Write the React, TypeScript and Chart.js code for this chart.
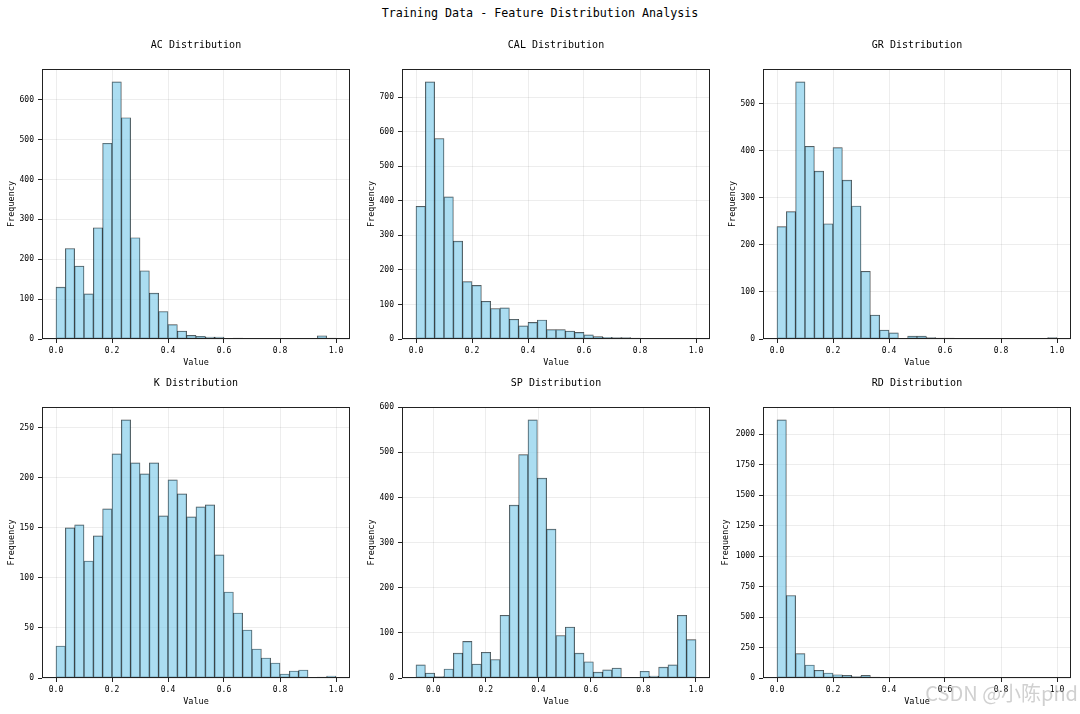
import React, { useEffect, useRef } from "react";
import { Chart, registerables } from "chart.js";

Chart.register(...registerables);

// ---------------- data ----------------
const SUPTITLE = "Training Data - Feature Distribution Analysis";
const featureNames = ["AC", "CAL", "GR", "K", "SP", "RD"];
const X_LABEL = "Value";
const Y_LABEL = "Frequency";
const WATERMARK = "CSDN @小陈phd";

// 30-bin histogram counts
const acCounts = [130, 227, 183, 113, 279, 491, 645, 555, 254, 171, 115, 69, 36, 20, 9, 7, 5, 5, 0, 2, 0, 0, 0, 0, 1, 1, 1, 0, 8, 2];
const calCounts = [384, 744, 580, 411, 283, 166, 155, 109, 88, 90, 57, 38, 48, 55, 27, 27, 23, 19, 12, 7, 5, 4, 4, 3, 2, 0, 0, 0, 0, 1];
const grCounts = [239, 271, 547, 410, 357, 245, 407, 338, 283, 144, 51, 19, 13, 0, 6, 6, 3, 2, 2, 0, 0, 0, 1, 0, 1, 0, 1, 0, 0, 3];
const kCounts = [32, 150, 153, 117, 142, 169, 224, 258, 215, 204, 215, 162, 198, 184, 161, 171, 173, 123, 86, 65, 48, 29, 20, 15, 4, 7, 8, 0, 1, 2];
const spCounts = [29, 11, 3, 20, 55, 81, 31, 57, 41, 139, 383, 495, 572, 443, 330, 94, 113, 55, 36, 13, 18, 22, 0, 0, 15, 4, 24, 29, 139, 85];
const rdCounts = [2118, 677, 200, 107, 63, 41, 27, 22, 11, 22, 8, 5, 3, 2, 1, 1, 1, 1, 1, 1, 1, 1, 0, 0, 0, 0, 0, 0, 2, 3];

// value range covered by the bins of each feature
const defaultRange = [0, 1];
const spRange = [-0.0657, 1.0];

// tick labels
const xTickValues = [0, 0.2, 0.4, 0.6, 0.8, 1.0];
const acYTicks = [0, 100, 200, 300, 400, 500, 600];
const calYTicks = [0, 100, 200, 300, 400, 500, 600, 700];
const grYTicks = [0, 100, 200, 300, 400, 500];
const kYTicks = [0, 50, 100, 150, 200, 250];
const spYTicks = [0, 100, 200, 300, 400, 500, 600];
const rdYTicks = [0, 250, 500, 750, 1000, 1250, 1500, 1750, 2000];

const countsList = [acCounts, calCounts, grCounts, kCounts, spCounts, rdCounts];
const rangeList = [defaultRange, defaultRange, defaultRange, defaultRange, spRange, defaultRange];
const yTicksList = [acYTicks, calYTicks, grYTicks, kYTicks, spYTicks, rdYTicks];

// ---------------- layout / style ----------------
const PANEL_W = 308;
const ROWS = [
  { top: 69, h: 270 },
  { top: 407, h: 271 },
];
const COL_LEFTS = [42, 402, 763];
const YLABEL_GAPS = [30.5, 30.5, 30.5, 30.5, 30.5, 37.3];
const Y_W = 48;
const T_H = 35;
const X_H = 30;
const R_PAD = 4;

const FONT = "'DejaVu Sans Mono', 'Liberation Mono', monospace";
const TEXT_COLOR = "#000";
const BAR_FILL = "rgba(135, 206, 235, 0.7)";
const BAR_EDGE = "rgba(0, 0, 0, 0.72)";
const GRID_COLOR = "rgba(0, 0, 0, 0.09)";
const FRAME_COLOR = "#222";

const framePlugin = {
  id: "frame",
  afterDatasetsDraw(chart: any) {
    const { ctx, chartArea } = chart;
    const { left, top, right, bottom } = chartArea;
    ctx.save();
    ctx.strokeStyle = FRAME_COLOR;
    ctx.lineWidth = 1;
    ctx.strokeRect(Math.round(left) + 0.5, Math.round(top) + 0.5, Math.round(right - left) - 1, Math.round(bottom - top) - 1);
    ctx.restore();
  },
};

type PanelProps = {
  name: string;
  counts: number[];
  range: number[];
  yTicks: number[];
  axesLeft: number;
  axesTop: number;
  axesH: number;
  ylabelGap: number;
};

function Histogram(p: PanelProps) {
  const ref = useRef<HTMLCanvasElement>(null);
  const cw = Y_W + PANEL_W + R_PAD;
  const ch = T_H + p.axesH + X_H;

  useEffect(() => {
    if (!ref.current) return;
    const [lo, hi] = p.range;
    const n = p.counts.length;
    const binW = (hi - lo) / n;
    const span = hi - lo;
    const points = p.counts.map((c, i) => ({ x: lo + (i + 0.5) * binW, y: c }));
    const yMax = Math.max(...p.counts) * 1.05;
    const yTitleOffset = Y_W - p.ylabelGap - 5.1;

    const chart = new Chart(ref.current, {
      type: "bar",
      data: {
        datasets: [
          {
            data: points as any,
            backgroundColor: BAR_FILL,
            borderColor: BAR_EDGE,
            borderWidth: 0.7,
            borderSkipped: false,
            barPercentage: 1,
            categoryPercentage: 1,
            grouped: false,
          } as any,
        ],
      },
      options: {
        responsive: false,
        animation: false,
        layout: { padding: { left: 0, right: R_PAD, top: 0, bottom: 0 } },
        plugins: {
          legend: { display: false },
          tooltip: { enabled: false },
          title: {
            display: true,
            text: `${p.name} Distribution`,
            fullSize: false,
            color: TEXT_COLOR,
            font: { family: FONT, size: 10, weight: "normal" },
            padding: { top: 5, bottom: T_H - 5 - 12 },
          },
        },
        scales: {
          x: {
            type: "linear",
            offset: false,
            min: lo - 0.05 * span,
            max: hi + 0.05 * span,
            afterBuildTicks: (s: any) => {
              s.ticks = xTickValues.map((v) => ({ value: v }));
            },
            afterFit: (s: any) => {
              s.height = X_H;
            },
            ticks: {
              autoSkip: false,
              maxRotation: 0,
              padding: 3,
              color: TEXT_COLOR,
              font: { family: FONT, size: 8 },
              callback: (v: any) => Number(v).toFixed(1),
            },
            grid: {
              offset: false,
              color: GRID_COLOR,
              lineWidth: 0.8,
              drawTicks: true,
              tickLength: 4,
              tickColor: "#222",
              tickWidth: 1,
            },
            border: { display: false },
            title: {
              display: true,
              text: X_LABEL,
              color: TEXT_COLOR,
              font: { family: FONT, size: 8.5 },
              padding: { top: 0, bottom: 1 },
            },
          } as any,
          y: {
            type: "linear",
            min: 0,
            max: yMax,
            afterBuildTicks: (s: any) => {
              s.ticks = p.yTicks.map((v) => ({ value: v }));
            },
            afterFit: (s: any) => {
              s.width = Y_W;
            },
            ticks: {
              autoSkip: false,
              padding: 4,
              color: TEXT_COLOR,
              font: { family: FONT, size: 8 },
              callback: (v: any) => String(v),
            },
            grid: {
              color: GRID_COLOR,
              lineWidth: 0.8,
              drawTicks: true,
              tickLength: 4,
              tickColor: "#222",
              tickWidth: 1,
            },
            border: { display: false },
            title: {
              display: true,
              text: Y_LABEL,
              color: TEXT_COLOR,
              font: { family: FONT, size: 8.5 },
              padding: { top: yTitleOffset, bottom: 0 },
            },
          } as any,
        },
      },
      plugins: [framePlugin],
    });
    return () => chart.destroy();
  }, []);

  return (
    <canvas
      ref={ref}
      width={cw}
      height={ch}
      style={{
        position: "absolute",
        left: p.axesLeft - Y_W,
        top: p.axesTop - T_H,
        width: cw,
        height: ch,
      }}
    />
  );
}

export default function App() {
  return (
    <div
      style={{
        position: "absolute",
        left: 0,
        top: 0,
        width: 1080,
        height: 714,
        background: "#fff",
        overflow: "hidden",
      }}
    >
      <div
        style={{
          position: "absolute",
          left: 0,
          top: 5,
          width: 1080,
          textAlign: "center",
          fontFamily: FONT,
          fontSize: 11.7,
          lineHeight: "16px",
          color: TEXT_COLOR,
        }}
      >
        {SUPTITLE}
      </div>
      {featureNames.map((name, i) => {
        const row = ROWS[Math.floor(i / 3)];
        return (
          <Histogram
            key={name}
            name={name}
            counts={countsList[i]}
            range={rangeList[i]}
            yTicks={yTicksList[i]}
            axesLeft={COL_LEFTS[i % 3]}
            axesTop={row.top}
            axesH={row.h}
            ylabelGap={YLABEL_GAPS[i]}
          />
        );
      })}
      <div
        style={{
          position: "absolute",
          right: 2,
          top: 679,
          fontFamily: "'Noto Sans CJK SC', 'Noto Sans', sans-serif",
          fontSize: 20,
          lineHeight: "28px",
          color: "rgba(170, 170, 170, 0.55)",
          whiteSpace: "nowrap",
          pointerEvents: "none",
        }}
      >
        {WATERMARK}
      </div>
    </div>
  );
}
